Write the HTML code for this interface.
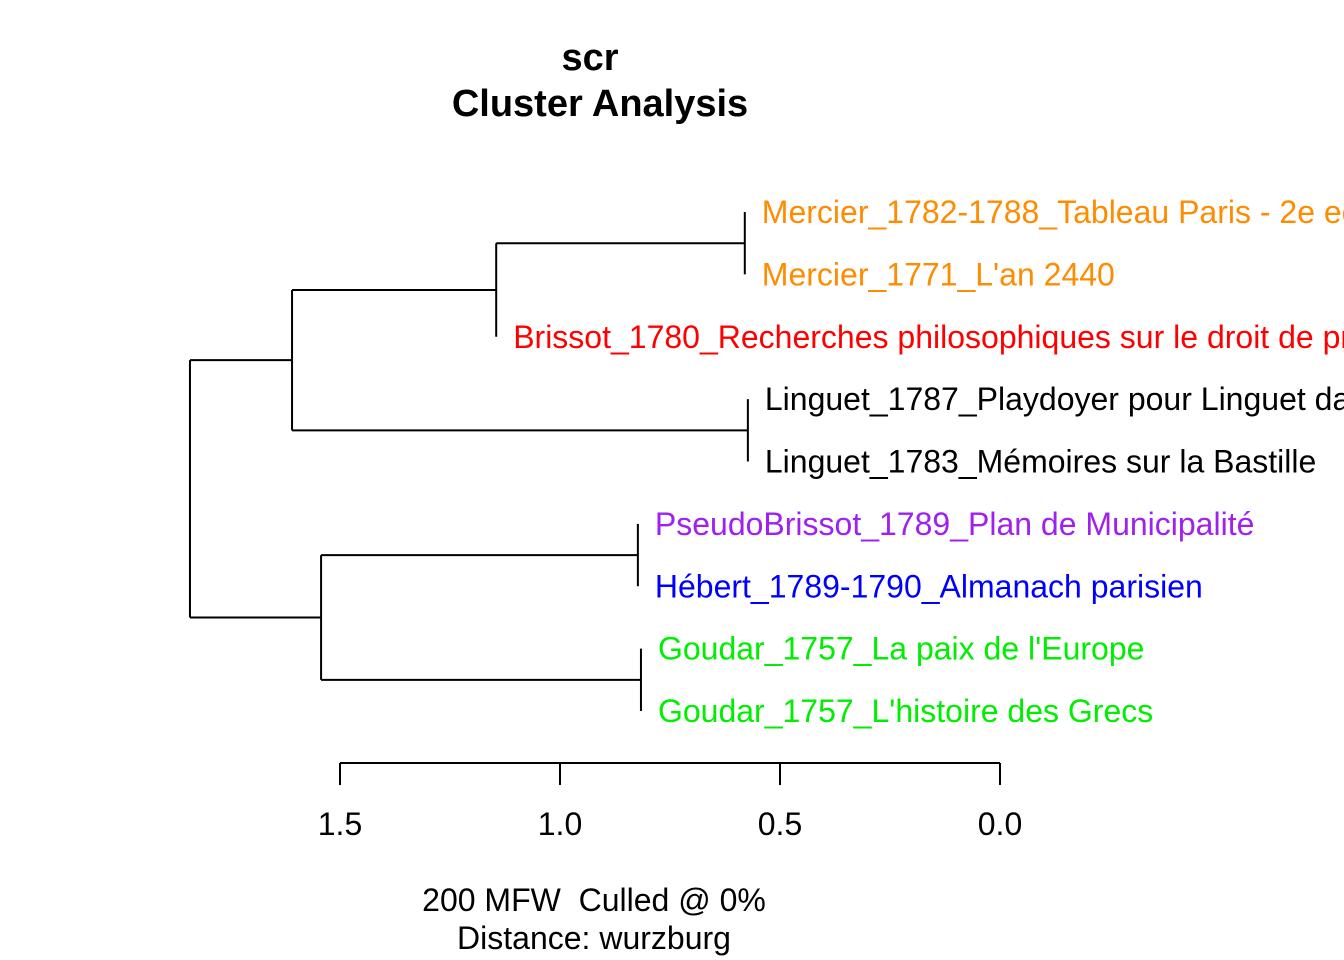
<!DOCTYPE html>
<html><head><meta charset="utf-8"><style>
html,body{margin:0;padding:0;background:#fff;}
svg{display:block;font-family:"Liberation Sans",Arial,sans-serif;}
text{white-space:pre;}
</style></head><body>
<svg id="chart" width="1344" height="960" viewBox="0 0 1344 960" xmlns="http://www.w3.org/2000/svg">
<text x="590" y="70" text-anchor="middle" font-weight="bold" font-size="38">scr</text>
<text x="600" y="116" text-anchor="middle" font-weight="bold" font-size="38">Cluster Analysis</text>
<text x="594" y="911" text-anchor="middle" font-size="32" xml:space="preserve">200 MFW  Culled @ 0%</text>
<text x="594" y="949" text-anchor="middle" font-size="32">Distance: wurzburg</text>
<g id="marks"></g>
</svg>
<script>
const leafLabels = ["Mercier_1782-1788_Tableau Paris - 2e edition","Mercier_1771_L'an 2440","Brissot_1780_Recherches philosophiques sur le droit de propriete","Linguet_1787_Playdoyer pour Linguet dans son proces","Linguet_1783_Mémoires sur la Bastille","PseudoBrissot_1789_Plan de Municipalité","Hébert_1789-1790_Almanach parisien","Goudar_1757_La paix de l'Europe","Goudar_1757_L'histoire des Grecs"];
const leafColors = ["#FF8C00","#FF8C00","#FF0000","#000000","#000000","#A020F0","#0000FF","#00EE00","#00EE00"];
const mergeLeft  = ["L0","N0","L3","N1","L5","L7","N4","N3"];
const mergeRight = ["L1","L2","L4","N2","L6","L8","N5","N6"];
const mergeHeights = [0.580,1.145,0.573,1.609,0.823,0.816,1.543,1.841];
const axisTicks = [1.5,1.0,0.5,0.0];
const tickLabels = ["1.5","1.0","0.5","0.0"];

const NS="http://www.w3.org/2000/svg";
const g=document.getElementById('marks');
const xScale=h=>1000-440*h;
const yLeaf=i=>212+i*(711-212)/(leafLabels.length-1);
function line(x1,y1,x2,y2,name){
  const l=document.createElementNS(NS,'line');
  l.setAttribute('x1',x1);l.setAttribute('y1',y1);l.setAttribute('x2',x2);l.setAttribute('y2',y2);
  l.setAttribute('stroke','#000');l.setAttribute('stroke-width','2');
  
  
  g.appendChild(l);
}
const nodePos=[];
const leafX=[];
function pos(c,parentX){
  const i=+c.slice(1);
  if(c[0]==='L'){leafX[i]=parentX;return {x:parentX,y:yLeaf(i)};}
  return nodePos[i];
}
mergeHeights.forEach((h,j)=>{
  const x=xScale(h);
  const a=pos(mergeLeft[j],x), b=pos(mergeRight[j],x);
  line(x,a.y,x,b.y,'merge-vertical');
  if(a.x!==x) line(x,a.y,a.x,a.y,'branch-horizontal');
  if(b.x!==x) line(x,b.y,b.x,b.y,'branch-horizontal');
  nodePos[j]={x:x,y:(a.y+b.y)/2};
});
leafLabels.forEach((lab,i)=>{
  const t=document.createElementNS(NS,'text');
  t.setAttribute('x',leafX[i]+17);t.setAttribute('y',yLeaf(i)+11);
  t.setAttribute('font-size','32');t.setAttribute('fill',leafColors[i]);
  t.textContent=lab;
  
  
  g.appendChild(t);
});
line(xScale(axisTicks[0]),763,xScale(axisTicks[axisTicks.length-1]),763,'x-axis-line');
axisTicks.forEach((v,i)=>{
  const x=xScale(v);
  line(x,763,x,785,'x-axis-tick');
  const t=document.createElementNS(NS,'text');
  t.setAttribute('x',x);t.setAttribute('y',835);t.setAttribute('text-anchor','middle');t.setAttribute('font-size','32');
  t.textContent=tickLabels[i];
  
  
  g.appendChild(t);
});
</script>
</body></html>
